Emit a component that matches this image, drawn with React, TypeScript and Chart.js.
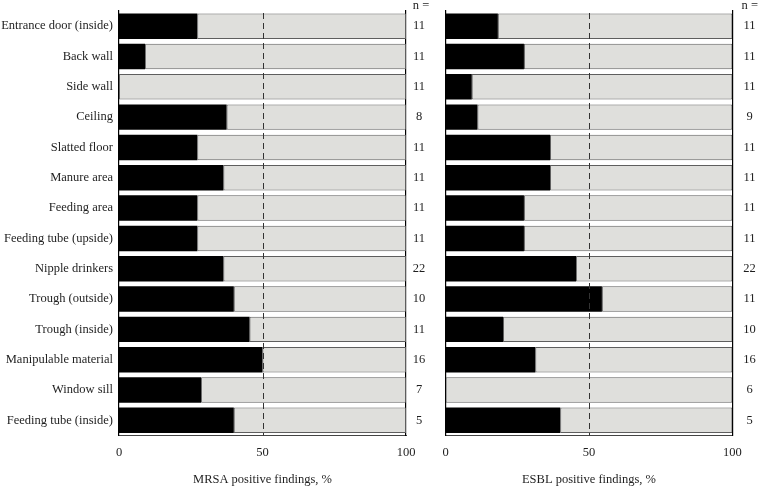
import React, { useEffect, useRef } from "react";
import { Chart, registerables } from "chart.js";

Chart.register(...registerables);

const categories = [
  "Entrance door (inside)",
  "Back wall",
  "Side wall",
  "Ceiling",
  "Slatted floor",
  "Manure area",
  "Feeding area",
  "Feeding tube (upside)",
  "Nipple drinkers",
  "Trough (outside)",
  "Trough (inside)",
  "Manipulable material",
  "Window sill",
  "Feeding tube (inside)",
];

const mrsaPositive = [27.3, 9.1, 0, 37.5, 27.3, 36.4, 27.3, 27.3, 36.4, 40, 45.5, 50, 28.6, 40];
const mrsaN = ["11", "11", "11", "8", "11", "11", "11", "11", "22", "10", "11", "16", "7", "5"];
const esblPositive = [18.2, 27.3, 9.1, 11.1, 36.4, 36.4, 27.3, 27.3, 45.5, 54.5, 20, 31.3, 0, 40];
const esblN = ["11", "11", "11", "9", "11", "11", "11", "11", "22", "11", "10", "16", "6", "5"];

const xTickValues = [0, 50, 100];
const referenceLine = 50;
const nHeader = "n =";

const FONT = "'Liberation Serif', 'Times New Roman', serif";
const TEXT = "#1e1e1e";

const overlayPlugin = {
  id: "overlay",
  afterDatasetsDraw(chart: any, _args: any, opts: any) {
    const { ctx, chartArea, scales } = chart;
    const x = Math.round(scales.x.getPixelForValue(opts.refValue)) + 0.5;
    ctx.save();
    ctx.strokeStyle = "#333";
    ctx.lineWidth = 1;
    ctx.setLineDash([6, 4]);
    ctx.beginPath();
    ctx.moveTo(x, chartArea.top + 2);
    ctx.lineTo(x, chartArea.bottom);
    ctx.stroke();
    ctx.restore();
  },
  afterDraw(chart: any, _args: any, opts: any) {
    const { ctx, chartArea } = chart;
    ctx.save();
    ctx.fillStyle = TEXT;
    ctx.font = `12.5px ${FONT}`;
    ctx.textAlign = "center";
    ctx.textBaseline = "alphabetic";
    ctx.fillText(opts.header, chartArea.right + opts.headerOffset, 8.5);
    ctx.restore();
  },
};

type PanelProps = {
  left: number;
  width: number;
  values: number[];
  nValues: string[];
  title: string;
  showLabels: boolean;
  yWidth: number;
  y2Width: number;
  nPad: number;
  headerOffset: number;
};

function noVerticalPadding(s: any) {
  s.paddingTop = 0;
  s.paddingBottom = 0;
}

function Panel(p: PanelProps) {
  const ref = useRef<HTMLCanvasElement | null>(null);
  useEffect(() => {
    if (!ref.current) return;
    const font = { family: FONT, size: 12.5 };
    const chart = new Chart(ref.current, {
      type: "bar",
      data: {
        labels: categories,
        datasets: [
          {
            data: p.values,
            backgroundColor: "#000000",
            borderWidth: 0,
            yAxisID: "y",
            xAxisID: "x",
          },
          {
            data: p.values.map((v) => 100 - v),
            backgroundColor: "#dfdfdc",
            borderColor: "#5e5e5e",
            borderWidth: 1,
            borderSkipped: false,
            yAxisID: "y",
            xAxisID: "x",
          },
        ],
      },
      options: {
        indexAxis: "y",
        animation: false,
        responsive: false,
        maintainAspectRatio: false,
        events: [],
        layout: { padding: { top: 11, bottom: 0, left: 0, right: 0 } },
        datasets: { bar: { barPercentage: 0.84, categoryPercentage: 1 } },
        plugins: {
          legend: { display: false },
          tooltip: { enabled: false },
          overlay: { refValue: referenceLine, header: nHeader, headerOffset: p.headerOffset },
        } as any,
        scales: {
          x: {
            type: "linear",
            stacked: true,
            min: 0,
            max: 100,
            z: 1,
            afterBuildTicks: (s: any) => {
              s.ticks = xTickValues.map((v) => ({ value: v }));
            },
            afterFit: (s: any) => {
              s.height = 53.5;
              s.paddingLeft = 0;
              s.paddingRight = 0;
            },
            grid: { display: false, drawTicks: false },
            border: { display: true, color: "#444", width: 1 },
            ticks: { font, color: TEXT, padding: 10, maxRotation: 0 },
            title: { display: true, text: p.title, font, color: TEXT, padding: { top: 0, bottom: 1.5 } },
          },
          y: {
            type: "category",
            stacked: true,
            position: "left",
            offset: true,
            z: 1,
            afterFit: (s: any) => {
              s.width = p.yWidth;
              noVerticalPadding(s);
            },
            grid: { display: false, drawTicks: false, offset: true },
            border: { display: true, color: "#000", width: 1.2 },
            ticks: { display: p.showLabels, font, color: TEXT, padding: 6, autoSkip: false },
          },
          y2: {
            type: "category",
            labels: p.nValues,
            position: "right",
            offset: true,
            z: 1,
            afterFit: (s: any) => {
              s.width = p.y2Width;
              noVerticalPadding(s);
            },
            grid: { display: false, drawTicks: false, offset: true },
            border: { display: true, color: "#000", width: 1.2 },
            ticks: { font, color: TEXT, padding: p.nPad, crossAlign: "center", autoSkip: false },
          },
        },
      } as any,
      plugins: [overlayPlugin],
    });
    return () => chart.destroy();
  }, []);
  return (
    <canvas
      ref={ref}
      width={p.width}
      height={489}
      style={{ position: "absolute", left: p.left, top: 0, width: p.width, height: 489 }}
    />
  );
}

export default function App() {
  return (
    <div
      style={{
        position: "fixed",
        left: 0,
        top: 0,
        width: 758,
        height: 489,
        overflow: "hidden",
        background: "#ffffff",
      }}
    >
      <Panel
        left={0}
        width={432}
        values={mrsaPositive}
        nValues={mrsaN}
        title="MRSA positive findings, %"
        showLabels={true}
        yWidth={119}
        y2Width={26}
        nPad={6.75}
        headerOffset={15}
      />
      <Panel
        left={432}
        width={326}
        values={esblPositive}
        nValues={esblN}
        title="ESBL positive findings, %"
        showLabels={false}
        yWidth={13.7}
        y2Width={25.7}
        nPad={11}
        headerOffset={17.5}
      />
    </div>
  );
}
